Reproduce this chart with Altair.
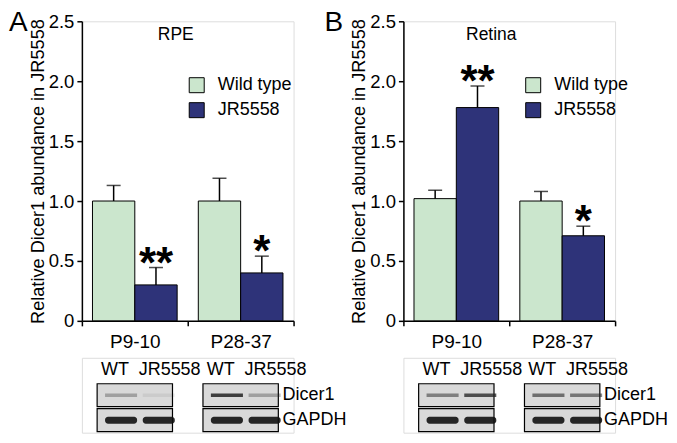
import altair as alt
import pandas as pd

FONT = "Liberation Sans"
WT_COLOR = "#cbe6cd"
JR_COLOR = "#2e3379"

groups = ["P9-10", "P28-37"]
series = ["Wild type", "JR5558"]
lanes = ["WT", "JR5558"]
blot_rows = ["lanes", "Dicer1", "GAPDH"]

# Panel A: RPE
rpe_wt_mean = [1.00, 1.00]
rpe_jr_mean = [0.30, 0.40]
rpe_wt_sem = [0.13, 0.19]
rpe_jr_sem = [0.145, 0.14]
rpe_sig = ["**", "*"]
rpe_dicer1 = [[0.35, 0.08], [0.95, 0.35]]   # band strength per group, per lane
rpe_gapdh = [[1.0, 1.0], [1.0, 1.0]]

# Panel B: Retina
ret_wt_mean = [1.02, 1.00]
ret_jr_mean = [1.78, 0.71]
ret_wt_sem = [0.07, 0.08]
ret_jr_sem = [0.18, 0.08]
ret_sig = ["**", "*"]
ret_dicer1 = [[0.55, 0.85], [0.65, 0.6]]
ret_gapdh = [[1.0, 1.0], [1.0, 1.0]]

Y_TITLE = "Relative Dicer1 abundance in JR5558"


def bar_chart(letter, letter_dx, wt_mean, jr_mean, wt_sem, jr_sem, sig, legend_x):
    df = pd.DataFrame({
        "group": groups * 2,
        "series": [series[0]] * 2 + [series[1]] * 2,
        "mean": wt_mean + jr_mean,
        "sem": wt_sem + jr_sem,
        "sig": ["", ""] + sig,
    })
    base = alt.Chart(df).transform_calculate(upper="datum.mean + datum.sem")
    x = alt.X("group:N", sort=groups,
              scale=alt.Scale(domain=groups, paddingInner=0, paddingOuter=0),
              axis=alt.Axis(title=None, tickBand="extent", labelAngle=0,
                            labelFont=FONT, labelFontSize=19, labelColor="black",
                            labelPadding=7, tickSize=5, tickColor="black",
                            tickWidth=1.5, domainColor="black", domainWidth=1.5))
    xo = alt.XOffset("series:N", sort=series,
                     scale=alt.Scale(domain=series, paddingInner=0, paddingOuter=0.25))
    yaxis = alt.Axis(title=Y_TITLE, values=[0, 0.5, 1, 1.5, 2, 2.5],
                     labelExpr="datum.value == 0 ? '0' : format(datum.value, '.1f')",
                     labelFont=FONT, labelFontSize=18.5, labelColor="black",
                     labelPadding=3, tickSize=5, tickColor="black", tickWidth=1.5,
                     domainColor="black", domainWidth=1.5, grid=False,
                     titleFont=FONT, titleFontSize=18.2, titleFontWeight="normal",
                     titleColor="black", titlePadding=1)
    yscale = alt.Scale(domain=[0, 2.5], nice=False)
    bars = base.mark_bar(stroke="black", strokeWidth=1).encode(
        x=x, xOffset=xo,
        y=alt.Y("mean:Q", scale=yscale, axis=yaxis),
        color=alt.Color("series:N", sort=series,
                        scale=alt.Scale(domain=series, range=[WT_COLOR, JR_COLOR]),
                        legend=alt.Legend(title=None, orient="none", legendX=legend_x,
                                          legendY=55, symbolType="square",
                                          symbolSize=225, symbolStrokeColor="black",
                                          symbolStrokeWidth=1, symbolOpacity=1,
                                          labelFont=FONT, labelFontSize=18,
                                          labelColor="black", labelOffset=12,
                                          rowPadding=5, padding=0)),
    )
    whisk = base.mark_rule(color="black", strokeWidth=1.5).encode(
        x=x, xOffset=xo,
        y=alt.Y("mean:Q", scale=yscale, axis=yaxis), y2="upper:Q")
    caps = base.mark_tick(color="black", size=14, thickness=1.5).encode(
        x=x, xOffset=xo, y=alt.Y("upper:Q", scale=yscale, axis=yaxis))
    stars = base.mark_text(font=FONT, fontSize=44, fontWeight="bold",
                           baseline="alphabetic", dy=10, color="black").encode(
        x=x, xOffset=xo, y=alt.Y("upper:Q", scale=yscale, axis=yaxis), text="sig:N")
    return alt.layer(bars, whisk, caps, stars).properties(
        width=212, height=300,
        title=alt.TitleParams(letter, font=FONT, fontSize=28, fontWeight="normal",
                              color="black", anchor="start", frame="group",
                              dx=letter_dx, dy=46.7, offset=0, baseline="alphabetic"))


def blot_chart(tissue, tissue_dx, dicer, gapdh):
    bands = []
    for gi, g in enumerate(groups):
        for li, ln in enumerate(lanes):
            bands.append({"group": g, "lane": ln, "row": "Dicer1", "strength": dicer[gi][li]})
            bands.append({"group": g, "lane": ln, "row": "GAPDH", "strength": gapdh[gi][li]})
    bands = pd.DataFrame(bands)
    boxes = pd.DataFrame({"group": [g for g in groups for _ in range(2)],
                          "row": ["Dicer1", "GAPDH"] * 2})
    lane_labels = pd.DataFrame({"group": [g for g in groups for _ in lanes],
                                "lane": lanes * 2, "row": ["lanes"] * 4,
                                "label": lanes * 2})
    row_labels = pd.DataFrame({"group": [groups[-1]] * 2, "row": ["Dicer1", "GAPDH"]})

    x = alt.X("group:N", sort=groups, axis=None,
              scale=alt.Scale(domain=groups, paddingInner=0, paddingOuter=0))
    xo = alt.XOffset("lane:N", sort=lanes,
                     scale=alt.Scale(domain=lanes, paddingInner=0, paddingOuter=0.404))
    y = alt.Y("row:N", sort=blot_rows, axis=None,
              scale=alt.Scale(domain=blot_rows, paddingInner=0.08, paddingOuter=0.04))

    box = alt.Chart(boxes).mark_rect(
        fill="#d9d9d9", stroke="black", strokeWidth=1.2,
        width=alt.RelativeBandSize(0.712)).encode(x=x, y=y)
    band_d = alt.Chart(bands).transform_filter("datum.row == 'Dicer1'").mark_rect(
        color="#222222", width=alt.RelativeBandSize(0.85),
        height=alt.RelativeBandSize(0.16)).encode(
        x=x, xOffset=xo, y=y,
        opacity=alt.Opacity("strength:Q", scale=alt.Scale(domain=[0, 1], range=[0, 0.9]),
                            legend=None))
    band_g = alt.Chart(bands).transform_filter("datum.row == 'GAPDH'").mark_rect(
        color="#111111", width=alt.RelativeBandSize(0.85),
        height=alt.RelativeBandSize(0.3), cornerRadius=3).encode(
        x=x, xOffset=xo, y=y,
        opacity=alt.Opacity("strength:Q", scale=alt.Scale(domain=[0, 1], range=[0, 0.95]),
                            legend=None))
    lane_txt = alt.Chart(lane_labels).mark_text(
        font=FONT, fontSize=18, align="left", dx=-15, color="black").encode(
        x=x, xOffset=xo, y=y, text="label:N")
    row_txt = alt.Chart(row_labels).mark_text(
        font=FONT, fontSize=18, align="left", dx=42, color="black").encode(
        x=x, y=y, text="row:N")
    # the tissue name sits at the top of the bar plot above; it is carried by this
    # chart's title so it does not disturb the flush grid layout
    return alt.layer(box, band_d, band_g, lane_txt, row_txt).properties(
        width=212, height=75,
        title=alt.TitleParams(tissue, font=FONT, fontSize=17.5, fontWeight="normal",
                              color="black", anchor="middle", frame="group",
                              dx=tissue_dx, dy=-301, offset=0, baseline="alphabetic"))


bar_a = bar_chart("A", -73, rpe_wt_mean, rpe_jr_mean, rpe_wt_sem, rpe_jr_sem, rpe_sig, 106)
bar_b = bar_chart("B", -79, ret_wt_mean, ret_jr_mean, ret_wt_sem, ret_jr_sem, ret_sig, 121)
blot_a = blot_chart("RPE", -12, rpe_dicer1, rpe_gapdh)
blot_b = blot_chart("Retina", -18, ret_dicer1, ret_gapdh)

chart = alt.concat(bar_a, bar_b, blot_a, blot_b, columns=2,
                   spacing={"row": 37, "column": 110}, bounds="flush").resolve_scale(
    color="independent", opacity="independent", x="independent", y="independent",
    xOffset="independent").resolve_legend(
    color="independent").properties(
    padding={"left": 0, "top": 0, "right": 0, "bottom": 0}).configure_view(
    stroke="transparent").configure(background="white")

chart.save("out.html", embed_options={"renderer": "svg", "actions": False})
